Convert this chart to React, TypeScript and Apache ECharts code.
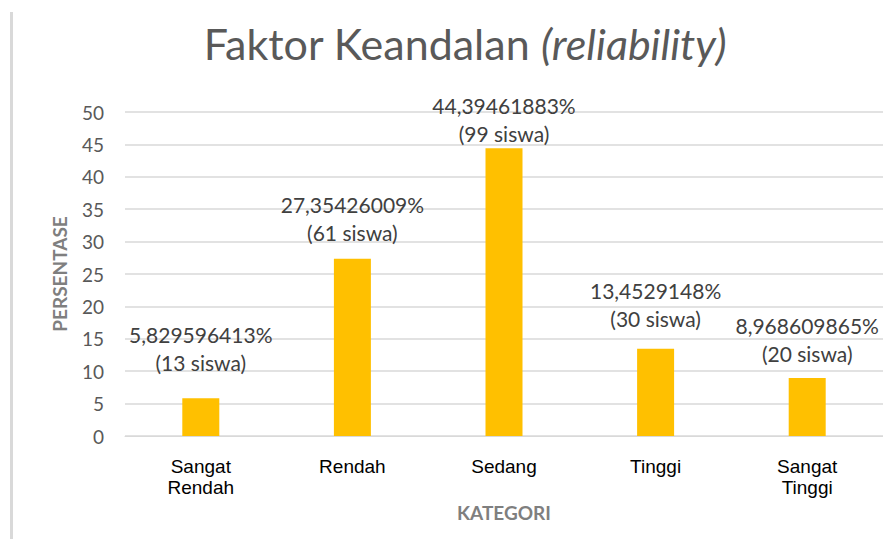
import React, { useEffect, useRef } from "react";
import * as echarts from "echarts";

const categories = ["Sangat\nRendah", "Rendah", "Sedang", "Tinggi", "Sangat\nTinggi"];
const percentages = [5.829596413, 27.35426009, 44.39461883, 13.4529148, 8.968609865];
const studentCounts = [13, 61, 99, 30, 20];
const yTicks = [0, 5, 10, 15, 20, 25, 30, 35, 40, 45, 50];

// label gap above each bar (layout only)
const labelGaps = [22, 12, 1, 16, 10];

const fmt = (v: number) => String(v).replace(".", ",") + "%";

export default function App() {
  const ref = useRef<HTMLDivElement>(null);
  useEffect(() => {
    if (!ref.current) return;
    const chart = echarts.init(ref.current, null, { renderer: "svg" });
    const labelFont = "Lato, 'Open Sans', sans-serif";
    chart.setOption({
      animation: false,
      backgroundColor: "#ffffff",
      graphic: [
        {
          type: "rect",
          left: 10,
          top: 12,
          shape: { width: 3, height: 527 },
          style: { fill: "#d9d9d9" },
        },
        {
          type: "text",
          x: 465,
          y: 43,
          style: {
            text: "{n|Faktor Keandalan }{i|(reliability)}",
            align: "center",
            verticalAlign: "middle",
            rich: {
              n: { fontSize: 43, fill: "#595959", fontFamily: labelFont, fontWeight: "normal" },
              i: { fontSize: 43, fill: "#595959", fontFamily: labelFont, fontStyle: "italic", fontWeight: "normal" },
            },
          },
        },
      ],
      grid: { left: 125, right: 0, top: 112, bottom: 103 },
      xAxis: {
        type: "category",
        data: categories,
        axisLine: { show: true, lineStyle: { color: "#d9d9d9", width: 1 } },
        axisTick: { show: false },
        axisLabel: {
          color: "#000000",
          fontSize: 19,
          fontFamily: "'Liberation Sans', Arial, sans-serif",
          lineHeight: 21,
          margin: 20,
        },
        name: "KATEGORI",
        nameLocation: "middle",
        nameGap: 67,
        nameTextStyle: { color: "#7f7f7f", fontSize: 19, fontFamily: labelFont, fontWeight: "bold" },
      },
      yAxis: {
        type: "value",
        min: 0,
        max: 50,
        interval: 5,
        axisLine: { show: false },
        axisTick: { show: false },
        splitLine: { lineStyle: { color: "#d9d9d9", width: 1.5 } },
        axisLabel: {
          color: "#595959",
          fontSize: 19,
          fontFamily: labelFont,
          margin: 21,
          formatter: (v: number) => (yTicks.includes(v) ? String(v) : ""),
        },
        name: "PERSENTASE",
        nameLocation: "middle",
        nameGap: 56,
        nameTextStyle: { color: "#7f7f7f", fontSize: 19, fontFamily: labelFont, fontWeight: "bold" },
      },
      series: [
        {
          type: "bar",
          barWidth: 37,
          itemStyle: { color: "#ffc000" },
          data: percentages.map((v, i) => ({
            value: v,
            label: {
              show: true,
              position: "top",
              distance: labelGaps[i],
              formatter: () => `${fmt(v)}\n(${studentCounts[i]} siswa)`,
              color: "#404040",
              fontSize: 21,
              lineHeight: 28,
              fontFamily: labelFont,
            },
          })),
        },
      ],
    });
    return () => chart.dispose();
  }, []);
  return <div ref={ref} style={{ width: 883, height: 539, position: "absolute", left: 0, top: 0 }} />;
}
